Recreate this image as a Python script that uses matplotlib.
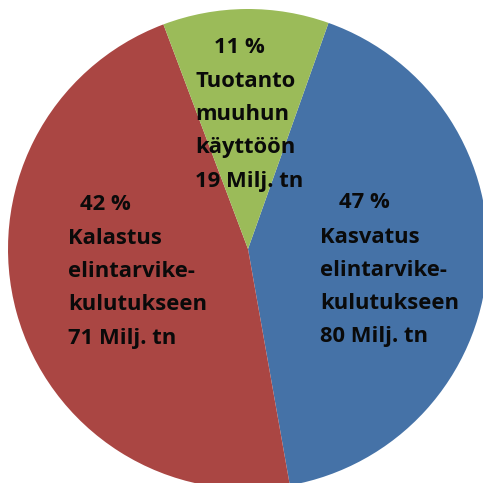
import matplotlib
matplotlib.use("Agg")
import matplotlib.pyplot as plt

# Wedge sizes as drawn in the picture (Milj. tn)
categories = ["Kasvatus", "Kalastus", "Tuotanto muuhun käyttöön"]
wedge_values = [71, 80, 19]
colors = ["#4572A7", "#AA4643", "#9BBB59"]

# Label texts as printed on the chart
pct_labels = ["47 %", "42 %", "11 %"]
text_lines = [
    ["Kasvatus", "elintarvike-", "kulutukseen", "80 Milj. tn"],
    ["Kalastus", "elintarvike-", "kulutukseen", "71 Milj. tn"],
    ["Tuotanto", "muuhun", "käyttöön", "19 Milj. tn"],
]

W = H = 483
fig = plt.figure(figsize=(W / 100, H / 100), dpi=100)
ax = fig.add_axes([0, 0, 1, 1])
cx, cy, R = 248, 249, 240
ax.pie(wedge_values, colors=colors, startangle=70.4, counterclock=False,
       radius=1, center=(0, 0), wedgeprops=dict(linewidth=0))
ax.set_xlim(-cx / R, (W - cx) / R)
ax.set_ylim(-(H - cy) / R, cy / R)
ax.set_aspect("auto")
ax.axis("off")

font = dict(family="Open Sans", weight="bold", fontsize=15.8, color="#0a0a0a")

def ftxt(x, y, s, ha):
    fig.text(x / W, 1 - y / H, s, ha=ha, va="baseline", **font)

# layout (pixel positions)
pct_pos = [(364, 208), (105, 210), (239, 53)]
block_left = [320, 68, 195]
block_base = [242.5, 244, 87]
step = 33.2

for i in range(3):
    ftxt(pct_pos[i][0], pct_pos[i][1], pct_labels[i], "center")
    for j, line in enumerate(text_lines[i]):
        ftxt(block_left[i], block_base[i] + j * step, line, "left")

fig.savefig("out.png", dpi=100)
